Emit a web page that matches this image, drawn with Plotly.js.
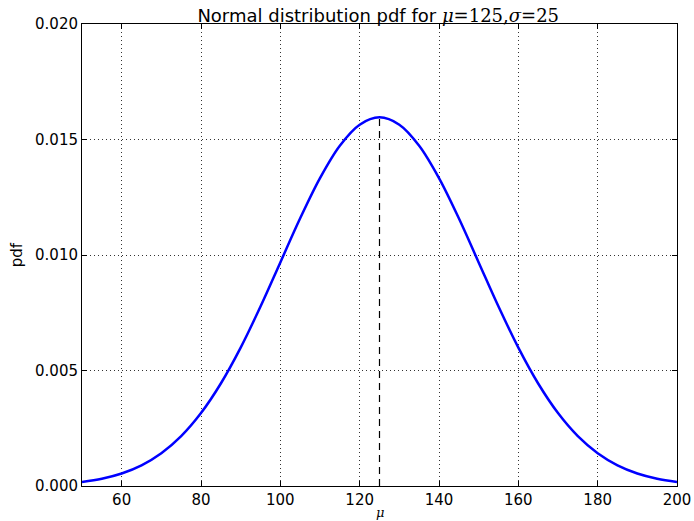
<!DOCTYPE html>
<html><head><meta charset="utf-8">
<script src="https://cdn.plot.ly/plotly-3.0.1.min.js"></script>
<style>body{margin:0;background:#fff}#c{width:694px;height:521px}</style>
</head><body><div id="c"></div>
<script>
const xVals = [50,55,60,65,70,75,80,85,90,95,100,105,110,115,120,125,130,135,140,145,150,155,160,165,170,175,180,185,190,195,200];
const pdfVals = [0.000177,0.000317,0.000543,0.000896,0.001419,0.002160,0.003158,0.004437,0.005989,0.007768,0.009679,0.011588,0.013329,0.014731,0.015642,0.015958,0.015642,0.014731,0.013329,0.011588,0.009679,0.007768,0.005989,0.004437,0.003158,0.002160,0.001419,0.000896,0.000543,0.000317,0.000177];
const muX = [125,125];
const muY = [0,0.015958];
const xTicks = [60,80,100,120,140,160,180,200];
const yTicks = [0,0.005,0.010,0.015,0.020];
const yTickText = ['0.000','0.005','0.010','0.015','0.020'];

const font = {family:'DejaVu Sans, sans-serif', size:15, color:'#000'};
const traces = [
  {x:xVals, y:pdfVals, type:'scatter', mode:'lines', line:{color:'#0000ff', width:2.5, shape:'spline'}, hoverinfo:'skip'},
  {x:muX, y:muY, type:'scatter', mode:'lines', line:{color:'#000', width:1.2, dash:'7px,5px'}, hoverinfo:'skip'}
];
const axCommon = {
  showline:true, linecolor:'#000', linewidth:1, mirror:'ticks',
  ticks:'inside', ticklen:5, tickcolor:'#000', tickwidth:1,
  showgrid:true, gridcolor:'#333', gridwidth:1, griddash:'1px,3px',
  zeroline:false, tickfont:font
};
const layout = {
  width:694, height:521,
  paper_bgcolor:'#fff', plot_bgcolor:'#fff',
  showlegend:false,
  margin:{l:82, r:17, t:24, b:35},
  title:{text:'Normal distribution pdf for <span style="font-family:DejaVu Serif, serif"><i>μ</i>=125,<i>σ</i>=25</span>', font:{family:'DejaVu Sans, sans-serif', size:18, color:'#000'}, x:0.545, xanchor:'center', y:0.982, yanchor:'top'},
  xaxis: Object.assign({}, axCommon, {range:[50,200], tickvals:xTicks, ticktext:xTicks.map(String)}),
  yaxis: Object.assign({}, axCommon, {range:[0,0.02], tickvals:yTicks, ticktext:yTickText,
    title:{text:'pdf', font:font, standoff:8}}),
  annotations:[{x:125, y:0, xref:'x', yref:'y', text:'<i>μ</i>', showarrow:false, yanchor:'top', yshift:-17, font:{family:'DejaVu Serif, serif', size:13, color:'#000'}}]
};
Plotly.newPlot('c', traces, layout, {displayModeBar:false, staticPlot:true});
</script></body></html>
